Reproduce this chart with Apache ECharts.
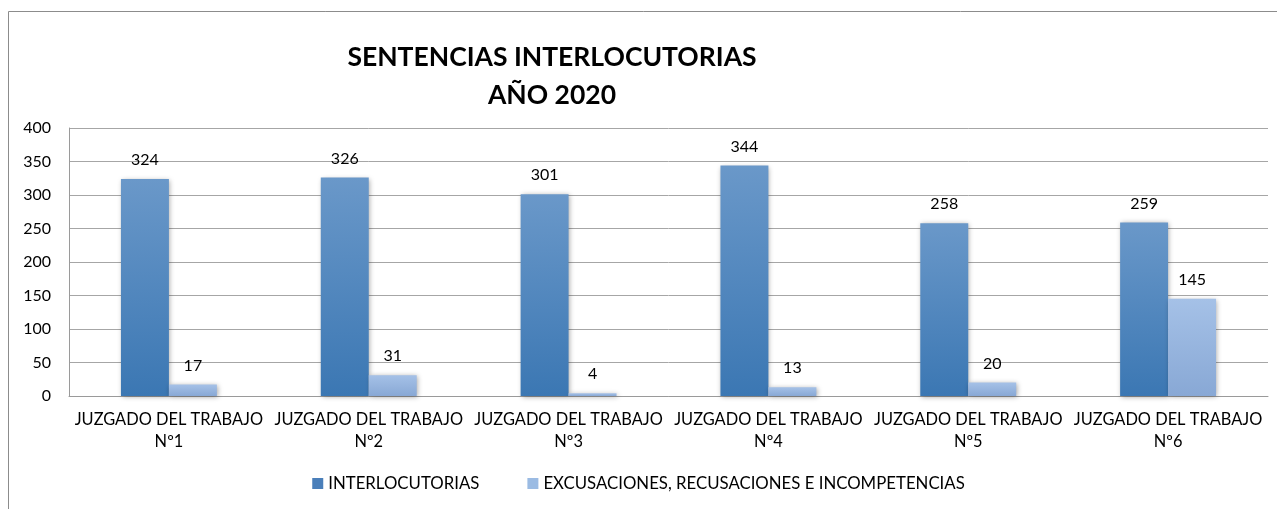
<!DOCTYPE html>
<html>
<head>
<meta charset="utf-8">
<script src="https://cdn.jsdelivr.net/npm/echarts@6/dist/echarts.min.js"></script>
<style>
  html, body { margin: 0; padding: 0; background: #fff; }
  #main { width: 1277px; height: 509px; }
</style>
</head>
<body>
<div id="main"></div>
<script>
const juzgados = ['JUZGADO DEL TRABAJO\nNº1', 'JUZGADO DEL TRABAJO\nNº2', 'JUZGADO DEL TRABAJO\nNº3',
  'JUZGADO DEL TRABAJO\nNº4', 'JUZGADO DEL TRABAJO\nNº5', 'JUZGADO DEL TRABAJO\nNº6']
const interlocutorias = [324, 326, 301, 344, 258, 259]
const excusaciones = [17, 31, 4, 13, 20, 145]
const serieNames = ['INTERLOCUTORIAS', 'EXCUSACIONES, RECUSACIONES E INCOMPETENCIAS']

const font = 'Lato, "Open Sans", sans-serif'
const grad = (top, bottom) => new echarts.graphic.LinearGradient(0, 0, 0, 1, [
  { offset: 0, color: top },
  { offset: 1, color: bottom }
])

const chart = echarts.init(document.getElementById('main'))
chart.setOption({
  animation: false,
  textStyle: { fontFamily: font },
  graphic: [{
    type: 'rect',
    shape: { x: 8.5, y: 11.5, width: 1300, height: 520 },
    style: { fill: 'none', stroke: '#8c8c8c', lineWidth: 1 },
    silent: true
  }],
  title: {
    text: 'SENTENCIAS INTERLOCUTORIAS\nAÑO 2020',
    left: 547,
    top: 33,
    textAlign: 'center',
    textStyle: { fontSize: 26.5, fontWeight: 'bold', color: '#000', lineHeight: 38, fontFamily: font }
  },
  legend: {
    bottom: 12,
    left: 'center',
    itemWidth: 11,
    itemHeight: 11,
    itemGap: 48,
    icon: 'rect',
    textStyle: { fontSize: 16.8, color: '#000', fontFamily: font },
    data: [
      { name: serieNames[0], itemStyle: { color: '#4a7fba' } },
      { name: serieNames[1], itemStyle: { color: '#9bbbe3' } }
    ]
  },
  grid: { left: 69, right: 9, top: 128, bottom: 113 },
  xAxis: {
    type: 'category',
    data: juzgados,
    axisLine: { lineStyle: { color: '#9a9a9a' } },
    axisTick: { show: false },
    axisLabel: { fontSize: 16.4, color: '#000', lineHeight: 22, margin: 13, interval: 0 }
  },
  yAxis: {
    type: 'value',
    min: 0,
    max: 400,
    interval: 50,
    axisLine: { show: true, lineStyle: { color: '#9a9a9a' } },
    axisTick: { show: false },
    splitLine: { lineStyle: { color: '#a6a6a6' } },
    axisLabel: { fontSize: 16, color: '#000', margin: 18 }
  },
  series: [
    {
      name: serieNames[0],
      type: 'bar',
      data: interlocutorias,
      barGap: '0%',
      barCategoryGap: '52%',
      itemStyle: {
        color: grad('#6a98c9', '#3b77b3'),
        shadowColor: 'rgba(0,0,0,0.35)',
        shadowBlur: 5,
        shadowOffsetX: 1,
        shadowOffsetY: 1
      },
      label: { show: true, position: 'top', distance: 11, fontSize: 16, color: '#000' }
    },
    {
      name: serieNames[1],
      type: 'bar',
      data: excusaciones,
      itemStyle: {
        color: grad('#a5c1e7', '#88a8d5'),
        shadowColor: 'rgba(0,0,0,0.35)',
        shadowBlur: 5,
        shadowOffsetX: 1,
        shadowOffsetY: 1
      },
      label: { show: true, position: 'top', distance: 11, fontSize: 16, color: '#000' }
    }
  ]
})
</script>
</body>
</html>
